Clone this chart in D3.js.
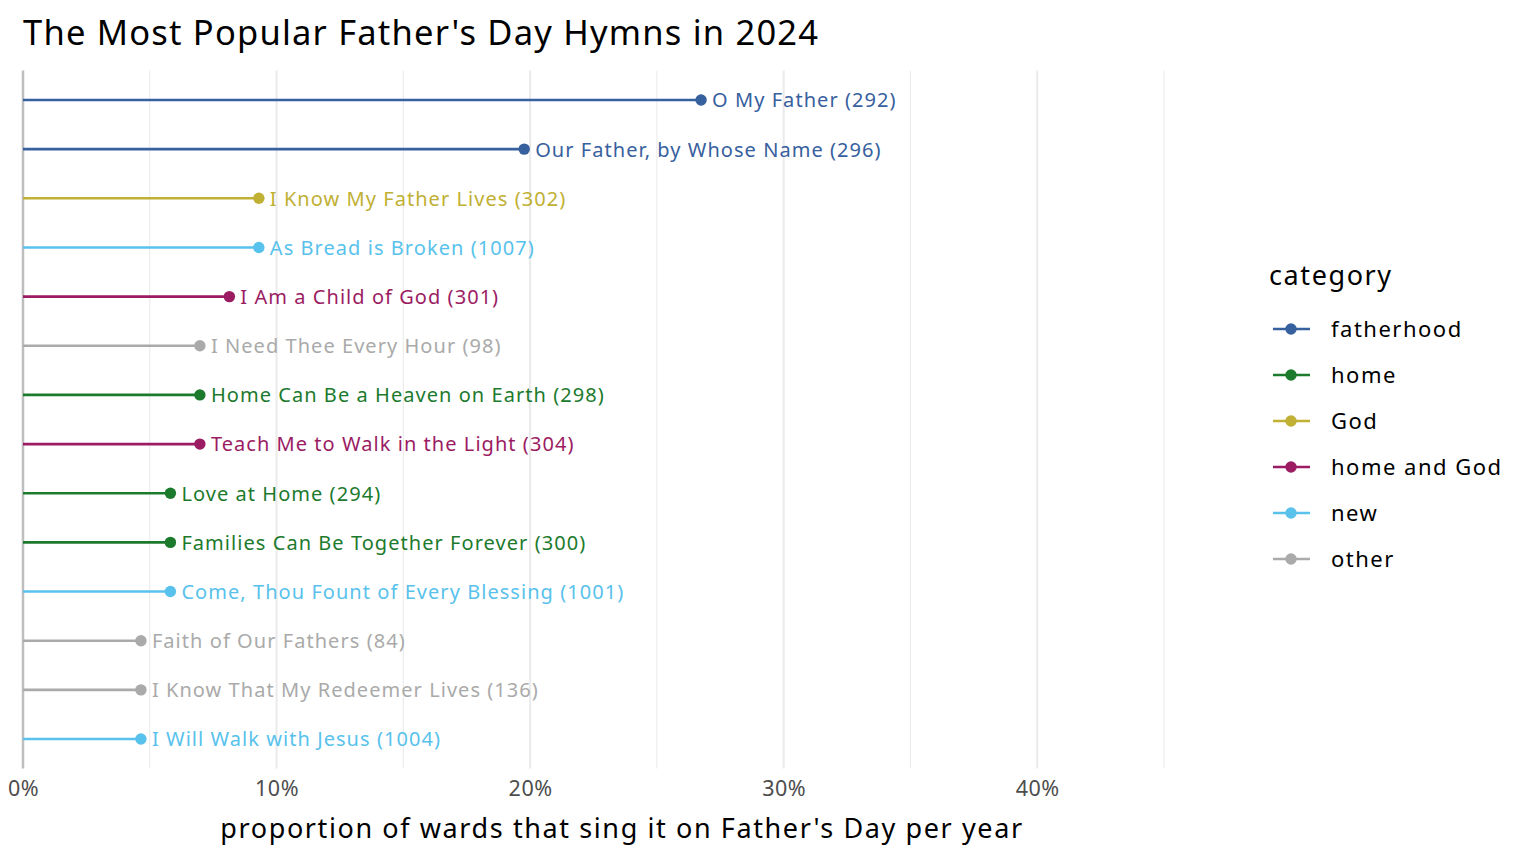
<!DOCTYPE html>
<html><head><meta charset="utf-8">
<script src="https://cdn.jsdelivr.net/npm/d3@7"></script>
<style>body{margin:0;background:#fff;} text{font-family:"Noto Sans", sans-serif;}</style>
</head><body><svg id="c" width="1536" height="864"></svg>
<script>
const hymns = ["O My Father (292)","Our Father, by Whose Name (296)","I Know My Father Lives (302)","As Bread is Broken (1007)","I Am a Child of God (301)","I Need Thee Every Hour (98)","Home Can Be a Heaven on Earth (298)","Teach Me to Walk in the Light (304)","Love at Home (294)","Families Can Be Together Forever (300)","Come, Thou Fount of Every Blessing (1001)","Faith of Our Fathers (84)","I Know That My Redeemer Lives (136)","I Will Walk with Jesus (1004)"];
const categoryOf = ["fatherhood","fatherhood","God","new","home and God","other","home","home and God","home","home","new","other","other","new"];
const proportion = [23/86,17/86,8/86,8/86,7/86,6/86,6/86,6/86,5/86,5/86,5/86,4/86,4/86,4/86];
const categories = ["fatherhood","home","God","home and God","new","other"];
const colors = ["#37609E","#1C7A2D","#C0B033","#9B1C63","#58C2EC","#AAAAAA"];
const majorTicks = [0,0.1,0.2,0.3,0.4];
const minorTicks = [0.05,0.15,0.25,0.35,0.45];

const svg = d3.select("#c");
const x = d3.scaleLinear().domain([0,0.45*1.05]).range([23,1221]);
const y = d3.scalePoint().domain(hymns).range([70.5,768.5]).padding(0.6);
const col = d3.scaleOrdinal().domain(categories).range(colors);
const data = hymns.map((h,i)=>({h, c:categoryOf[i], p:proportion[i]}));

svg.append("g").selectAll("line").data(minorTicks).join("line")
  .attr("x1",d=>x(d)).attr("x2",d=>x(d)).attr("y1",70.5).attr("y2",768.5)
  .attr("stroke","#EBEBEB").attr("stroke-width",1.1);
svg.append("g").selectAll("line").data(majorTicks.slice(1)).join("line")
  .attr("x1",d=>x(d)).attr("x2",d=>x(d)).attr("y1",70.5).attr("y2",768.5)
  .attr("stroke","#EBEBEB").attr("stroke-width",2.1);
svg.append("line").attr("x1",x(0)).attr("x2",x(0)).attr("y1",70.5).attr("y2",768.5)
  .attr("stroke","#BEBEBE").attr("stroke-width",2.5);

const ax = svg.append("g").attr("transform","translate(0,768.5)")
  .call(d3.axisBottom(x).tickValues(majorTicks).tickFormat(d3.format(".0%")).tickSize(0).tickPadding(12));
ax.select(".domain").remove();
ax.selectAll("text").attr("font-size",21.5).attr("fill","#4D4D4D").attr("font-family","Noto Sans")
  .attr("letter-spacing",0.5);

const g = svg.append("g");
g.selectAll("line.s").data(data).join("line").attr("class","s")
  .attr("x1",x(0)).attr("x2",d=>x(d.p)).attr("y1",d=>y(d.h)).attr("y2",d=>y(d.h))
  .attr("stroke",d=>col(d.c)).attr("stroke-width",2.6);
g.selectAll("circle").data(data).join("circle")
  .attr("cx",d=>x(d.p)).attr("cy",d=>y(d.h)).attr("r",5.7).attr("fill",d=>col(d.c));
g.selectAll("text").data(data).join("text")
  .attr("x",d=>x(d.p)+11).attr("y",d=>y(d.h)).attr("dy","0.37em")
  .attr("font-size",20).attr("letter-spacing",1.05).attr("fill",d=>col(d.c)).text(d=>d.h);

svg.append("text").attr("x",23).attr("y",45).attr("font-size",34.5).attr("letter-spacing",1.2).attr("fill","#000")
  .text("The Most Popular Father's Day Hymns in 2024");
svg.append("text").attr("x",622).attr("y",838).attr("text-anchor","middle").attr("font-size",27).attr("letter-spacing",1.6).attr("fill","#000")
  .text("proportion of wards that sing it on Father's Day per year");

const lg = svg.append("g");
lg.append("text").attr("x",1269).attr("y",285).attr("font-size",27).attr("letter-spacing",1.6).text("category");
const li = lg.selectAll("g").data(categories).join("g")
  .attr("transform",(d,i)=>`translate(0,${329+i*46})`);
li.append("line").attr("x1",1273).attr("x2",1310).attr("stroke",d=>col(d)).attr("stroke-width",2.6);
li.append("circle").attr("cx",1291).attr("r",5.7).attr("fill",d=>col(d));
li.append("text").attr("x",1331).attr("dy","0.37em").attr("font-size",22).attr("letter-spacing",1.5).text(d=>d);
</script></body></html>
